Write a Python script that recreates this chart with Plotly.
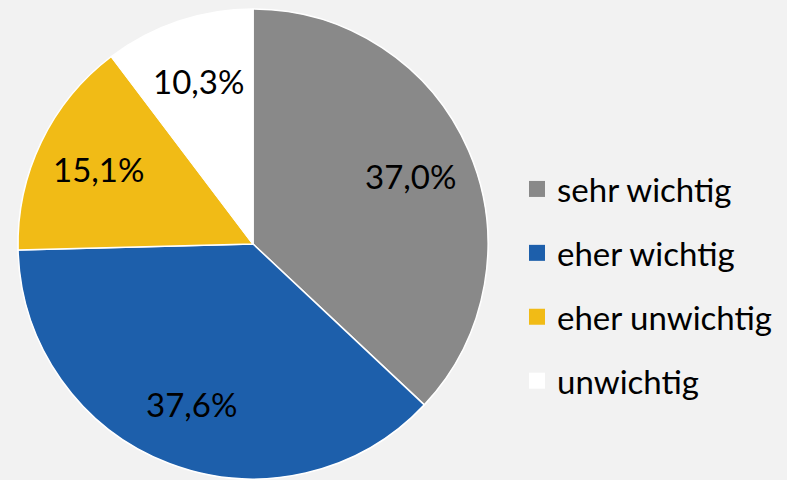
import math
import plotly.graph_objects as go

categories = ["sehr wichtig", "eher wichtig", "eher unwichtig", "unwichtig"]
values = [37.0, 37.6, 15.1, 10.3]
colors = ["#898989", "#1d5fab", "#f1bb16", "#ffffff"]

W, H = 787, 480
FONT = "Lato, Calibri, Carlito, sans-serif"
CX, CY, R = 253, 244, 235  # pie centre and radius in pixels
LABEL_R = 0.73             # label distance as fraction of radius

fig = go.Figure()
fig.add_trace(go.Pie(
    labels=categories, values=values, sort=False, direction="clockwise", rotation=0,
    marker=dict(colors=colors, line=dict(color="#ffffff", width=1.5)),
    textinfo="none",
    showlegend=False, hoverinfo="label+percent",
    domain=dict(x=[(CX - R) / W, (CX + R) / W], y=[1 - (CY + R) / H, 1 - (CY - R) / H]),
))

# percentage labels placed at each slice's mid angle
total = sum(values)
cum = 0.0
for v in values:
    mid = (cum + v / 2) / total * 2 * math.pi
    cum += v
    px = CX + LABEL_R * R * math.sin(mid)
    py = CY - LABEL_R * R * math.cos(mid)
    fig.add_annotation(
        x=px / W, y=1 - py / H, xref="paper", yref="paper",
        text=f"{v / total * 100:.1f}%".replace(".", ","), showarrow=False,
        font=dict(family=FONT, size=33, color="#000000"),
        xanchor="center", yanchor="middle",
    )

for i, (c, col) in enumerate(zip(categories, colors)):
    fig.add_trace(go.Scatter(
        x=[None], y=[None], mode="markers", name=c, legendgroup=f"g{i}",
        marker=dict(symbol="square", size=17, color=col, line=dict(width=0)),
    ))

fig.update_layout(
    width=W, height=H, margin=dict(l=0, r=0, t=0, b=0),
    paper_bgcolor="#f2f2f2", plot_bgcolor="#f2f2f2",
    separators=", ",
    xaxis=dict(visible=False), yaxis=dict(visible=False),
    legend=dict(x=517 / W, xanchor="left", y=1 - 285 / H, yanchor="middle",
                font=dict(family=FONT, size=33, color="#000000"),
                tracegroupgap=18, bgcolor="rgba(0,0,0,0)", itemwidth=30),
)

fig.write_html("out.html", config={"displayModeBar": False},
               post_script="document.body.style.margin='0px';document.body.style.background='#f2f2f2';")
